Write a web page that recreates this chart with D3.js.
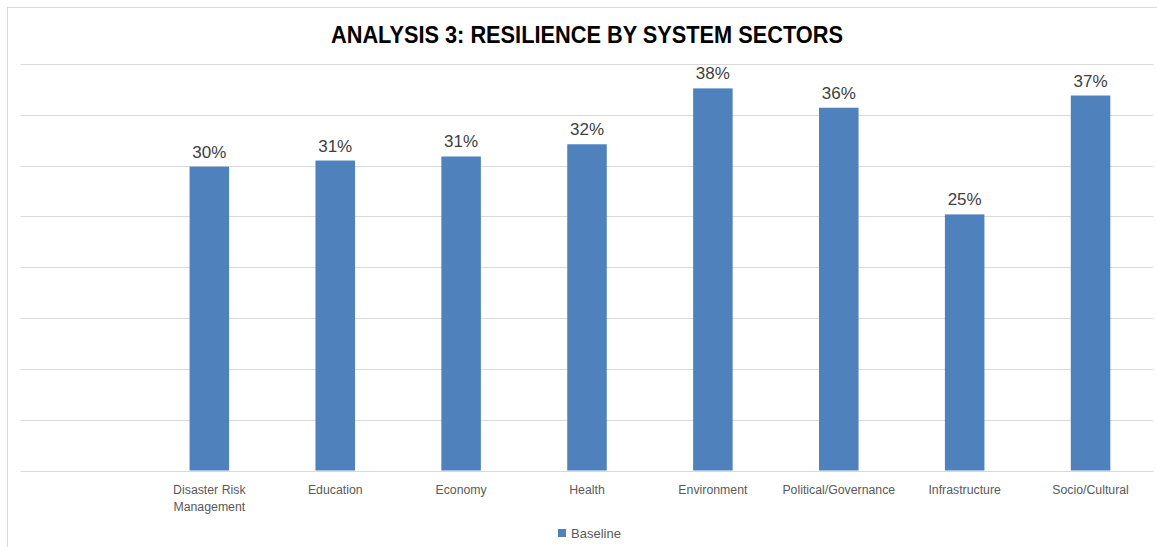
<!DOCTYPE html>
<html>
<head>
<meta charset="utf-8">
<script src="https://cdn.jsdelivr.net/npm/d3@7"></script>
<style>
  html, body { margin: 0; padding: 0; background: #fff; overflow: hidden; }
  svg { display: block; }
</style>
</head>
<body>
<svg id="chart" width="1157" height="547"></svg>
<script>
const categories = ["", "Disaster Risk Management", "Education", "Economy", "Health", "Environment", "Political/Governance", "Infrastructure", "Socio/Cultural"];
const baseline = [null, 0.299, 0.305, 0.309, 0.321, 0.376, 0.357, 0.252, 0.369];
const valueLabels = ["", "30%", "31%", "31%", "32%", "38%", "36%", "25%", "37%"];
const yTicks = [0, 0.05, 0.10, 0.15, 0.20, 0.25, 0.30, 0.35, 0.40];
const seriesName = "Baseline";
const titleText = "ANALYSIS 3: RESILIENCE BY SYSTEM SECTORS";

const svg = d3.select("#chart");
const W = 1157, H = 547;
const plot = { left: 20.5, right: 1153.5, top: 64, bottom: 470.5 };

// outer border (chart area extends past image)
svg.append("rect")
  .attr("x", 7.5).attr("y", 7.5)
  .attr("width", 1170).attr("height", 570)
  .attr("fill", "none").attr("stroke", "#d9d9d9").attr("stroke-width", 1);

const x = d3.scaleBand()
  .domain(categories.map((d, i) => i))
  .range([plot.left, plot.right])
  .paddingInner(0.686).paddingOuter(0.343);

const y = d3.scaleLinear().domain([0, 0.40]).range([plot.bottom, plot.top]);

// gridlines
svg.append("g").selectAll("line").data(yTicks).join("line")
  .attr("x1", plot.left).attr("x2", plot.right)
  .attr("y1", d => Math.round(y(d)) + 0.5).attr("y2", d => Math.round(y(d)) + 0.5)
  .attr("stroke", "#d9d9d9").attr("stroke-width", 1.2);

// bars
const data = categories.map((c, i) => ({ i, c, v: baseline[i], label: valueLabels[i] })).filter(d => d.v != null);

svg.append("g").selectAll("rect").data(data).join("rect")
  .attr("x", d => x(d.i))
  .attr("width", x.bandwidth())
  .attr("y", d => y(d.v))
  .attr("height", d => y(0) - y(d.v))
  .attr("fill", "#4f81bd");

// value labels
svg.append("g").selectAll("text").data(data).join("text")
  .attr("x", d => x(d.i) + x.bandwidth() / 2)
  .attr("y", d => y(d.v) - 9)
  .attr("text-anchor", "middle")
  .attr("font-family", "Liberation Sans, Arial, sans-serif")
  .attr("font-size", 17)
  .attr("fill", "#404040")
  .text(d => d.label);

// category axis labels (wrapped)
const xAxis = d3.axisBottom(x).tickSize(0).tickFormat(i => categories[i]);
const axisG = svg.append("g")
  .attr("transform", `translate(0,${plot.bottom})`)
  .call(xAxis);
axisG.select(".domain").remove();
axisG.selectAll("text")
  .attr("font-family", "Liberation Sans, Arial, sans-serif")
  .attr("font-size", 12.3)
  .attr("fill", "#595959")
  .attr("dy", null)
  .attr("y", 0)
  .each(function(i) {
    const t = d3.select(this);
    const name = categories[i];
    t.text(null);
    const lines = name === "Disaster Risk Management" ? ["Disaster Risk", "Management"] : [name];
    lines.forEach((ln, k) => {
      t.append("tspan").attr("x", 0).attr("y", 23 + k * 17).text(ln);
    });
  });

// title
svg.append("text")
  .attr("x", (plot.left + plot.right) / 2)
  .attr("y", 43)
  .attr("text-anchor", "middle")
  .attr("font-family", "Liberation Sans, Arial, sans-serif")
  .attr("font-weight", "bold")
  .attr("font-size", 24.5)
  .attr("fill", "#000")
  .attr("textLength", 512)
  .attr("lengthAdjust", "spacingAndGlyphs")
  .text(titleText);

// legend
const lg = svg.append("g").attr("transform", "translate(558,529)");
lg.append("rect").attr("width", 8).attr("height", 8).attr("fill", "#4f81bd");
lg.append("text")
  .attr("x", 13).attr("y", 9)
  .attr("font-family", "Liberation Sans, Arial, sans-serif")
  .attr("font-size", 13)
  .attr("fill", "#595959")
  .text(seriesName);
</script>
</body>
</html>
